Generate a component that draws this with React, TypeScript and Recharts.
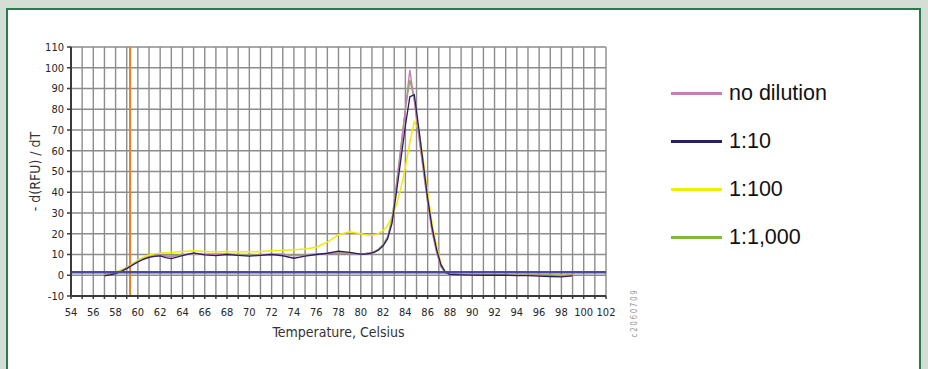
// Melt curve (-dRFU/dT vs temperature) for a dilution series
import { LineChart, Line, XAxis, YAxis, CartesianGrid, ReferenceLine } from 'recharts'

const temps = [
  57, 57.5, 58, 58.5, 59, 59.5, 60, 60.5, 61, 61.5, 62, 62.5, 63,
  64, 65, 66, 67, 68, 69, 70, 71, 72, 73, 74, 75, 76, 77, 78, 79, 80,
  80.4, 80.8, 81.2, 81.6, 82, 82.4, 82.8, 83.2, 83.6, 84, 84.4, 84.8, 85.2, 85.6, 86, 86.4, 86.8, 87.2, 87.6, 88,
  89, 90, 91, 92, 93, 94, 95, 96, 97, 98, 99,
]

const noDilution = [
  0, 0.4, 1, 2, 3.4, 5, 6.6, 7.9, 8.8, 9.3, 9.6, 9.2, 9,
  9.8, 10.4, 10, 10, 10.3, 9.8, 9.5, 9.8, 10, 10.2, 9.4, 9.8, 10, 10.3, 10.8, 10.4, 10.2,
  10.4, 10.7, 11.2, 12.4, 14.5, 18, 26, 43, 61, 80, 99, 84, 67, 51, 35, 21, 11, 4, 1.2, 0.5,
  0.3, 0.2, 0.2, 0.1, 0.2, 0.1, 0, 0.1, -0.1, -0.2, 0,
]

const dil10 = [
  -0.3, 0.2, 0.8, 1.8, 3.2, 4.8, 6.4, 7.7, 8.6, 9.1, 9.3, 8.5, 8,
  9.4, 10.8, 9.8, 9.5, 10, 9.6, 9.2, 9.6, 10, 9.4, 8.2, 9.2, 10, 10.6, 11.6, 11, 10.2,
  10.2, 10.5, 11, 12.2, 14.2, 17.5, 25, 40, 56, 72, 86, 87, 71, 54, 37, 23, 12.5, 5, 1.4, 0.4,
  0.2, 0.1, 0, 0.1, 0, -0.2, -0.2, -0.4, -0.6, -0.8, -0.3,
]

const dil100 = [
  0.3, 0.8, 1.5, 2.5, 3.8, 5.5, 7.3, 8.7, 9.8, 10.3, 10.6, 10.8, 11,
  11.5, 11.8, 11.5, 11.3, 11.5, 11.2, 11.3, 11.5, 11.8, 12, 12.3, 12.6, 13.5, 16, 19.5, 21, 20,
  19.5, 19.2, 19.4, 20.2, 21.5, 24, 28, 34, 42, 52, 64, 74, 70, 56, 40, 25, 14, 5.5, 1.8, 0.6,
  0.3, 0.2, 0.1, 0.1, 0.1, 0, 0, 0, 0, 0, 0,
]

const dil1000 = [
  0.1, 0.5, 1.1, 2.1, 3.5, 5.1, 6.7, 8, 8.9, 9.4, 9.7, 9.4, 9.2,
  10, 10.3, 10.1, 10.2, 10.1, 9.9, 9.7, 9.9, 10.1, 10.1, 9.6, 9.9, 10.1, 10.4, 10.9, 10.6, 10.3,
  10.5, 10.8, 11.3, 12.6, 14.8, 18.5, 27, 44, 62, 80, 94, 85, 68, 52, 35.5, 21.5, 11.5, 4.2, 1.2, 0.5,
  0.3, 0.2, 0.2, 0.2, 0.1, 0.1, 0.1, 0, 0, -0.1, 0,
]

const xTicks = [
  54, 55, 56, 57, 58, 59, 60, 61, 62, 63, 64, 65, 66, 67, 68, 69, 70, 71, 72, 73, 74, 75, 76, 77, 78,
  79, 80, 81, 82, 83, 84, 85, 86, 87, 88, 89, 90, 91, 92, 93, 94, 95, 96, 97, 98, 99, 100, 101, 102,
]
const yTicks = [-10, 0, 10, 20, 30, 40, 50, 60, 70, 80, 90, 100, 110]

const seriesNames = ['no dilution', '1:10', '1:100', '1:1,000']
const seriesColors = ['#c47fb5', '#2b1f5e', '#f2ec00', '#7dbb3c']

const thresholdY = 1.5
const cursorX = 59.3

const data = temps.map((t, i) => ({
  t,
  nd: noDilution[i],
  d10: dil10[i],
  d100: dil100[i],
  d1000: dil1000[i],
}))

const tickFont = { fontFamily: '"DejaVu Sans Condensed", "DejaVu Sans", sans-serif', fontSize: 11, fill: '#262626' }
const titleFont = '"DejaVu Sans Condensed", "DejaVu Sans", sans-serif'

function LegendBox() {
  return (
    <div style={{ fontFamily: '"Liberation Sans", Arial, sans-serif', fontSize: 21.5, color: '#111' }}>
      {seriesNames.map((name, i) => (
        <div key={name} style={{ height: 48, display: 'flex', alignItems: 'center' }}>
          <span style={{ display: 'inline-block', width: 51, height: 3, background: seriesColors[i], marginRight: 7 }} />
          <span>{name}</span>
        </div>
      ))}
    </div>
  )
}

export default function App() {
  return (
    <div style={{ position: 'absolute', left: 0, top: 0, width: 928, height: 369, background: '#d3ded5', overflow: 'hidden' }}>
      {/* white panel with green frame */}
      <div
        style={{
          position: 'absolute', left: 6, top: 8, width: 915, height: 400, boxSizing: 'border-box',
          borderLeft: '2px solid #2b7a4b', borderTop: '2px solid #2b7a4b', borderRight: '2px solid #2b7a4b',
          background: '#fff',
        }}
      />
      <div style={{ position: 'absolute', left: 0, top: 0 }}>
        <LineChart width={640} height={369} data={data} margin={{ top: 47, right: 34, left: 0, bottom: 1 }}>
          <CartesianGrid stroke="#8c8c8c" strokeWidth={1.4} />
          <XAxis
            type="number"
            dataKey="t"
            domain={[54, 102]}
            ticks={xTicks}
            interval={0}
            tickFormatter={(v) => (v % 2 === 0 ? String(v) : '')}
            height={72}
            tick={tickFont}
            tickSize={3}
            tickMargin={9}
            axisLine={{ stroke: '#3a3a3a', strokeWidth: 2 }}
            tickLine={{ stroke: '#3a3a3a', strokeWidth: 1.5 }}
            label={{ value: 'Temperature, Celsius', position: 'center', fontFamily: titleFont, fontSize: 14, fill: '#333' }}
          />
          <YAxis
            type="number"
            domain={[-10, 110]}
            ticks={yTicks}
            interval={0}
            width={71}
            tick={tickFont}
            tickSize={4}
            tickMargin={3}
            axisLine={{ stroke: '#3a3a3a', strokeWidth: 2 }}
            tickLine={{ stroke: '#3a3a3a', strokeWidth: 1.5 }}
            label={{ value: '- d(RFU) / dT', angle: -90, position: 'center', fontFamily: titleFont, fontSize: 14, fill: '#333' }}
          />
          <ReferenceLine x={cursorX} stroke="#e8801e" strokeWidth={2} />
          <Line dataKey="d100" stroke={seriesColors[2]} strokeWidth={1.5} dot={false} isAnimationActive={false} />
          <Line dataKey="d1000" stroke={seriesColors[3]} strokeWidth={1.4} dot={false} isAnimationActive={false} />
          <Line dataKey="nd" stroke={seriesColors[0]} strokeWidth={1.4} dot={false} isAnimationActive={false} />
          <Line dataKey="d10" stroke={seriesColors[1]} strokeWidth={1.3} dot={false} isAnimationActive={false} />
          <ReferenceLine y={thresholdY} stroke="#4a4aa0" strokeWidth={2.5} />
        </LineChart>
      </div>
      <div style={{ position: 'absolute', left: 671, top: 69 }}>
        <LegendBox />
      </div>
      <div
        style={{
          position: 'absolute', left: 634.5, top: 313, transform: 'translate(-50%, -50%) rotate(-90deg)',
          fontFamily: titleFont, fontSize: 8, letterSpacing: 1.6, color: '#9a9a9a', whiteSpace: 'nowrap', lineHeight: 1,
        }}
      >
        c2060709
      </div>
    </div>
  )
}
